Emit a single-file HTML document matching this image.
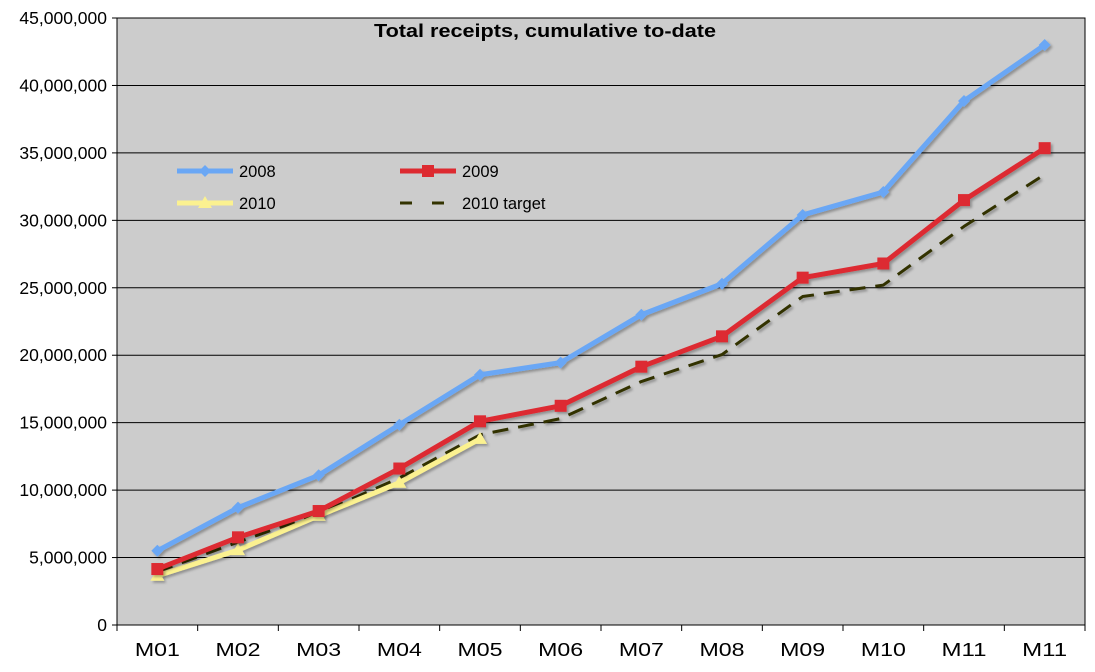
<!DOCTYPE html>
<html><head><meta charset="utf-8"><style>
body{margin:0;background:#fff;}
svg text{font-family:"Liberation Sans","DejaVu Sans",sans-serif;}
</style></head><body>
<svg id="chart" width="1095" height="667" xmlns="http://www.w3.org/2000/svg">
<defs><filter id="sh" x="-5%" y="-5%" width="110%" height="110%"><feDropShadow dx="2" dy="2" stdDeviation="1.2" flood-color="#000" flood-opacity="0.3"/></filter></defs>
<rect x="117" y="18" width="968" height="607" fill="#cccccc" stroke="#000" stroke-width="1"/>
<g id="grid"></g><g id="axes"></g><g id="series"></g>
<text x="374" y="37" font-size="18" font-weight="bold" textLength="342" lengthAdjust="spacingAndGlyphs">Total receipts, cumulative to-date</text>
<g id="legend"></g>
</svg>
<script>
const categories=["M01","M02","M03","M04","M05","M06","M07","M08","M09","M10","M11","M11"];
const s2008=[5.5,8.7,11.1,14.85,18.55,19.45,23.0,25.3,30.4,32.1,38.85,43.0];
const s2009=[4.15,6.5,8.45,11.6,15.1,16.25,19.15,21.4,25.75,26.8,31.5,35.35];
const s2010=[3.65,5.55,8.1,10.55,13.8];
const sTarget=[3.95,6.15,8.25,10.9,14.1,15.3,18.05,20.05,24.35,25.2,29.55,33.4];
const yTicks=[0,5,10,15,20,25,30,35,40,45];
const yTickLabels=["0","5,000,000","10,000,000","15,000,000","20,000,000","25,000,000","30,000,000","35,000,000","40,000,000","45,000,000"];
const NS="http://www.w3.org/2000/svg";
const L=117,R=1085,T=18,B=625;
const bw=(R-L)/categories.length;
const x=i=>L+bw*(i+0.5);
const y=v=>B-(v/45)*(B-T);
function mk(tag,attrs,parent){const e=document.createElementNS(NS,tag);for(const k in attrs)e.setAttribute(k,attrs[k]);parent.appendChild(e);return e;}
const grid=document.getElementById('grid'),axes=document.getElementById('axes'),ser=document.getElementById('series'),leg=document.getElementById('legend');
yTicks.forEach((v,i)=>{
 if(v>0){const g=mk('line',{x1:L,x2:R,y1:y(v),y2:y(v),stroke:'#000','stroke-width':1},grid);
 
 }
 const tk=mk('line',{x1:L-5,x2:L,y1:y(v),y2:y(v),stroke:'#000'},axes);
 
 
 const t=mk('text',{x:L-10,y:y(v)+6,'font-size':17.5,'text-anchor':'end'},axes);t.textContent=yTickLabels[i];
 
 
});
for(let i=0;i<=categories.length;i++){
 const tk=mk('line',{x1:L+bw*i,x2:L+bw*i,y1:B,y2:B+6,stroke:'#000'},axes);
 
 
}
categories.forEach((c,i)=>{const t=mk('text',{x:x(i),y:B+31,'font-size':18,'text-anchor':'middle',textLength:45,lengthAdjust:'spacingAndGlyphs'},axes);t.textContent=c;
 
 });
function marker(kind,cx,cy,col,p){
 if(kind==='diamond')return mk('path',{d:`M${cx},${cy-6}L${cx+6},${cy}L${cx},${cy+6}L${cx-6},${cy}Z`,fill:col},p);
 if(kind==='square')return mk('rect',{x:cx-6,y:cy-6,width:12,height:12,fill:col},p);
 if(kind==='tri')return mk('path',{d:`M${cx},${cy-7}L${cx+7},${cy+5}L${cx-7},${cy+5}Z`,fill:col},p);
}
function series(vals,col,kind,name,dash){
 const g=mk('g',{filter:'url(#sh)'},ser);
 
 
 const pts=vals.map((v,i)=>x(i)+','+y(v)).join(' ');
 const a={points:pts,fill:'none',stroke:col,'stroke-width':dash?3:5,'stroke-linejoin':'round'};
 if(dash)a['stroke-dasharray']='16,10';
 mk('polyline',a,g);
 if(kind)vals.forEach((v,i)=>{const m=marker(kind,x(i),y(v),col,g);
  
  });
}
series(s2008,'#6aa7f5','diamond','series-2008');
series(sTarget,'#333300',null,'series-2010-target',true);
series(s2010,'#fbf190','tri','series-2010');
series(s2009,'#dd2a30','square','series-2009');
function legItem(lx,ly,col,kind,label,dash){
 const g=mk('g',{},leg);
 
 
 const a={x1:lx,x2:lx+56,y1:ly,y2:ly,stroke:col,'stroke-width':dash?3:5};
 if(dash)a['stroke-dasharray']='12,20';
 mk('line',a,g);
 if(kind)marker(kind,lx+28,ly,col,g);
 const t=mk('text',{x:lx+62,y:ly+6,'font-size':16.5},g);t.textContent=label;
}
legItem(177,171,'#6aa7f5','diamond','2008');
legItem(400,171,'#dd2a30','square','2009');
legItem(177,203,'#fbf190','tri','2010');
legItem(400,203,'#333300',null,'2010 target',true);
</script>
</body></html>
